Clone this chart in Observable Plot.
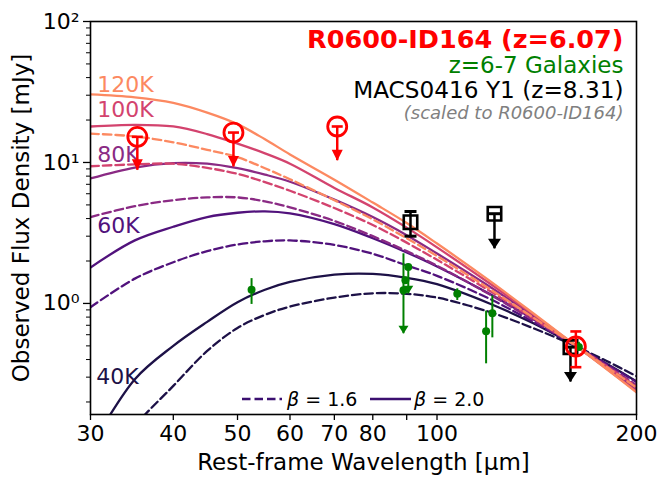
<!DOCTYPE html>
<html>
<head>
<meta charset="utf-8">
<script src="https://cdn.jsdelivr.net/npm/d3@7"></script>
<script src="https://cdn.jsdelivr.net/npm/@observablehq/plot@0.6"></script>
<style>
  html, body { margin: 0; padding: 0; background: #fff; }
</style>
</head>
<body>
<div id="chart"></div>
<script>
// ---------------- data ----------------
const wave = [30, 35, 40, 45, 50, 55, 60, 70, 80, 90, 100, 120, 140, 160, 180, 200];

// modified black-body curves, flux density in mJy at each wavelength in `wave`
const t40b16  = [0.05, 0.135, 0.26, 0.46, 0.67, 0.83, 0.95, 1.10, 1.18, 1.17, 1.10, 0.87, 0.665, 0.51, 0.392, 0.305];
const t40b20  = [0.095, 0.29, 0.50, 0.74, 1.02, 1.25, 1.42, 1.60, 1.62, 1.52, 1.37, 1.00, 0.72, 0.515, 0.375, 0.28];
const t60b16  = [0.94, 1.50, 1.96, 2.35, 2.62, 2.76, 2.80, 2.60, 2.25, 1.86, 1.57, 1.08, 0.735, 0.515, 0.374, 0.277];
const t60b20  = [1.80, 2.80, 3.50, 4.10, 4.40, 4.50, 4.35, 3.65, 2.90, 2.30, 1.83, 1.17, 0.77, 0.52, 0.36, 0.255];
const t80b16  = [4.10, 4.90, 5.40, 5.65, 5.65, 5.30, 4.80, 3.85, 3.00, 2.35, 1.85, 1.16, 0.76, 0.518, 0.364, 0.264];
const t80b20  = [7.70, 9.20, 9.90, 9.80, 9.10, 8.20, 7.30, 5.45, 4.10, 3.05, 2.26, 1.32, 0.81, 0.522, 0.35, 0.243];
const t100b16 = [9.40, 9.70, 9.80, 9.15, 8.30, 7.25, 6.30, 4.75, 3.60, 2.70, 2.04, 1.23, 0.78, 0.52, 0.36, 0.257];
const t100b20 = [18.0, 18.5, 18.0, 15.9, 13.6, 11.6, 9.80, 6.60, 4.80, 3.45, 2.50, 1.39, 0.83, 0.523, 0.346, 0.238];
const t120b16 = [16.0, 15.3, 13.9, 12.3, 10.9, 9.10, 7.60, 5.40, 3.95, 2.90, 2.17, 1.27, 0.79, 0.52, 0.356, 0.253];
const t120b20 = [30.4, 29.0, 26.5, 22.6, 18.7, 14.6, 11.4, 7.55, 5.20, 3.72, 2.66, 1.45, 0.845, 0.525, 0.344, 0.234];

const temps = ["40K", "60K", "80K", "100K", "120K"];
const tempColors = ["#1d1147", "#51127c", "#8a2a84", "#d3436e", "#fc8961"];
const betas = ["1.6", "2.0"];

// temperature labels (anchor: wavelength, flux)
const tLabelText = ["120K", "100K", "80K", "60K", "40K"];
const tLabelW = [30.7, 30.7, 30.7, 30.7, 30.6];
const tLabelF = [35.2, 23.4, 11.3, 3.57, 0.301];
const tLabelColor = ["#fc8961", "#d3436e", "#8a2a84", "#51127c", "#1d1147"];

// R0600-ID164 (red)
const redUlW = [35.3, 49.3, 70.7];
const redUlF = [15.2, 16.3, 18.0];
const redUlTip = [8.8, 9.3, 10.3];
const redDetW = [162];
const redDetF = [0.495];
const redDetLo = [0.353];
const redDetHi = [0.633];

// z=6-7 galaxies (green)
const galW  = [52.5, 89.0, 89.6, 90.5, 107.3, 118.6, 121.2, 163.7];
const galF  = [1.25, 1.24, 1.46, 1.81, 1.17, 0.636, 0.853, 0.49];
const galLo = [0.984, 0.61, 1.46, 1.17, 1.05, 0.373, 0.57, 0.46];
const galHi = [1.50, 2.25, 1.46, 1.81, 1.27, 0.882, 1.13, 0.53];
const galUpper = [false, true, false, true, false, false, false, false];

// MACS0416 Y1 (black)
const macsW  = [91.2, 122.1, 159.0];
const macsF  = [3.77, 4.33, 0.49];
const macsLo = [3.00, 2.44, 0.277];
const macsHi = [4.49, 4.33, 0.49];
const macsUpper = [false, true, true];

// axes
const xTicks = [30, 40, 50, 60, 70, 80, 90, 100, 200];
const xTickLabels = ["30", "40", "50", "60", "70", "80", "", "100", "200"];
const yMajor = [1, 10, 100];
const yMajorLabels = ["10\u2070", "10\u00b9", "10\u00b2"];
const yMinor = [0.2, 0.3, 0.4, 0.5, 0.6, 0.7, 0.8, 0.9, 2, 3, 4, 5, 6, 7, 8, 9, 20, 30, 40, 50, 60, 70, 80, 90];

const xLabel = "Rest-frame Wavelength [\u03bcm]";
const yLabel = "Observed Flux Density [mJy]";
const titleLines = ["R0600-ID164 (z=6.07)", "z=6-7 Galaxies", "MACS0416 Y1 (z=8.31)", "(scaled to R0600-ID164)"];
const legendText = ["1.6", "2.0"];

// ---------------- build tables ----------------
const curveArrays = {
  "40K|1.6": t40b16, "40K|2.0": t40b20,
  "60K|1.6": t60b16, "60K|2.0": t60b20,
  "80K|1.6": t80b16, "80K|2.0": t80b20,
  "100K|1.6": t100b16, "100K|2.0": t100b20,
  "120K|1.6": t120b16, "120K|2.0": t120b20
};

const red = redUlW.map((w, i) => ({w, f: redUlF[i], tip: redUlTip[i]}));
const redDet = redDetW.map((w, i) => ({w, f: redDetF[i], lo: redDetLo[i], hi: redDetHi[i]}));
const gal = galW.map((w, i) => ({w, f: galF[i], lo: galLo[i], hi: galHi[i], up: galUpper[i]}));
const macs = macsW.map((w, i) => ({w, f: macsF[i], lo: macsLo[i], hi: macsHi[i], up: macsUpper[i]}));
const tLabels = tLabelText.map((t, i) => ({t, w: tLabelW[i], f: tLabelF[i], c: tLabelColor[i]}));

// custom symbols
const downTri = (w, h) => ({draw(ctx) { ctx.moveTo(-w / 2, -h); ctx.lineTo(w / 2, -h); ctx.lineTo(0, 0); ctx.closePath(); }});
const hCap = (w) => ({draw(ctx) { ctx.moveTo(-w / 2, 0); ctx.lineTo(w / 2, 0); }});

const curveMarks = [];
temps.forEach((T, ti) => {
  betas.forEach(b => {
    const arr = curveArrays[T + "|" + b];
    const rows = wave.map((w, i) => ({w, f: arr[i]}));
    curveMarks.push(Plot.line(rows, {
      x: "w", y: "f", stroke: tempColors[ti], strokeWidth: 2.3,
      strokeDasharray: b === "1.6" ? "8.5,4" : null,
      curve: "catmull-rom", clip: true
    }));
  });
});

const chart = Plot.plot({
  width: 659,
  height: 479,
  marginTop: 21,
  marginRight: 23,
  marginBottom: 65,
  marginLeft: 90,
  style: {fontFamily: "DejaVu Sans", fontSize: "22px", background: "white", color: "black"},
  x: {type: "log", domain: [30, 200]},
  y: {type: "log", domain: [0.163, 100]},
  marks: [
    ...curveMarks,
    // temperature labels
    Plot.text(tLabels, {x: "w", y: "f", text: "t", fill: "c", textAnchor: "start", lineAnchor: "middle", fontSize: 22}),
    // MACS0416 Y1
    Plot.ruleX(macs, {x: "w", y1: "lo", y2: "hi", stroke: "black", strokeWidth: 2.5}),
    Plot.dot(macs, {x: "w", y: "hi", symbol: hCap(12), stroke: "black", fill: "none", strokeWidth: 3}),
    Plot.dot(macs.filter(d => !d.up), {x: "w", y: "lo", symbol: hCap(12), stroke: "black", fill: "none", strokeWidth: 3}),
    Plot.dot(macs.filter(d => d.up), {x: "w", y: "lo", symbol: downTri(13, 10), fill: "black", stroke: "none"}),
    Plot.dot(macs, {x: "w", y: "f", symbol: "square", r: 7.6, stroke: "black", fill: "none", strokeWidth: 2.6}),
    // z=6-7 galaxies
    Plot.ruleX(gal, {x: "w", y1: "lo", y2: "hi", stroke: "green", strokeWidth: 2}),
    Plot.dot(gal.filter(d => d.up), {x: "w", y: "lo", symbol: downTri(10, 8), fill: "green", stroke: "none"}),
    Plot.dot(gal, {x: "w", y: "f", r: 4, fill: "green", stroke: "none"}),
    // R0600-ID164
    Plot.ruleX(red, {x: "w", y1: "tip", y2: "f", stroke: "red", strokeWidth: 2.5}),
    Plot.dot(red, {x: "w", y: "f", symbol: hCap(11), stroke: "red", fill: "none", strokeWidth: 2.6}),
    Plot.dot(red, {x: "w", y: "tip", symbol: downTri(11, 11), fill: "red", stroke: "none"}),
    Plot.dot(red, {x: "w", y: "f", r: 9.5, stroke: "red", fill: "none", strokeWidth: 2.8}),
    Plot.ruleX(redDet, {x: "w", y1: "lo", y2: "hi", stroke: "red", strokeWidth: 2.5}),
    Plot.dot(redDet, {x: "w", y: "lo", symbol: hCap(11), stroke: "red", fill: "none", strokeWidth: 2.6}),
    Plot.dot(redDet, {x: "w", y: "hi", symbol: hCap(11), stroke: "red", fill: "none", strokeWidth: 2.6}),
    Plot.dot(redDet, {x: "w", y: "f", r: 9.5, stroke: "red", fill: "none", strokeWidth: 2.8}),
    // titles (top right)
    Plot.text([titleLines[0]], {text: d => d, frameAnchor: "top-right", textAnchor: "end", lineAnchor: "bottom", dx: -13, dy: 26, fill: "red", fontWeight: "bold", fontSize: 25.5}),
    Plot.text([titleLines[1]], {text: d => d, frameAnchor: "top-right", textAnchor: "end", lineAnchor: "bottom", dx: -13, dy: 51, fill: "green", fontSize: 23}),
    Plot.text([titleLines[2]], {text: d => d, frameAnchor: "top-right", textAnchor: "end", lineAnchor: "bottom", dx: -13, dy: 76.5, fill: "black", fontSize: 23.2}),
    Plot.text([titleLines[3]], {text: d => d, frameAnchor: "top-right", textAnchor: "end", lineAnchor: "bottom", dx: -13, dy: 97, fill: "#808080", fontSize: 18, fontStyle: "italic"}),
    // axis labels
    Plot.text([xLabel], {text: d => d, frameAnchor: "bottom", textAnchor: "middle", lineAnchor: "bottom", dy: 55, fontSize: 23, fill: "black"}),
    Plot.text([yLabel], {text: d => d, frameAnchor: "left", textAnchor: "middle", lineAnchor: "middle", rotate: -90, dx: -69, fontSize: 23, fill: "black"}),
    // axes
    Plot.axisX({ticks: xTicks, tickFormat: d => xTickLabels[xTicks.indexOf(d)], tickSize: 6, tickPadding: 5, label: null, fontSize: 22, strokeWidth: 1.3}),
    Plot.axisY({ticks: yMajor, tickFormat: d => yMajorLabels[yMajor.indexOf(d)], tickSize: 7, tickPadding: 4, label: null, fontSize: 22, strokeWidth: 1.3}),
    Plot.axisY({ticks: yMinor, tickFormat: () => "", tickSize: 4, label: null, strokeWidth: 1}),
    Plot.frame({stroke: "black", strokeWidth: 1.6})
  ]
});

document.getElementById("chart").appendChild(chart);

// legend (inside the frame, bottom centre)
const svg = d3.select(chart);
const lg = svg.append("g").attr("font-family", "DejaVu Sans").attr("font-size", 19).attr("text-anchor", "start");
lg.append("line").attr("x1", 242).attr("x2", 282).attr("y1", 399).attr("y2", 399)
  .attr("stroke", "#3b0f70").attr("stroke-width", 2.5).attr("stroke-dasharray", "8.5,4");
const t1 = lg.append("text").attr("x", 287).attr("y", 406).attr("fill", "black").attr("text-anchor", "start");
t1.append("tspan").attr("font-style", "italic").text("\u03b2");
t1.append("tspan").text(" = " + legendText[0]);
lg.append("line").attr("x1", 370).attr("x2", 411).attr("y1", 399).attr("y2", 399)
  .attr("stroke", "#3b0f70").attr("stroke-width", 2.5);
const t2 = lg.append("text").attr("x", 414).attr("y", 406).attr("fill", "black").attr("text-anchor", "start");
t2.append("tspan").attr("font-style", "italic").text("\u03b2");
t2.append("tspan").text(" = " + legendText[1]);
</script>
</body>
</html>
